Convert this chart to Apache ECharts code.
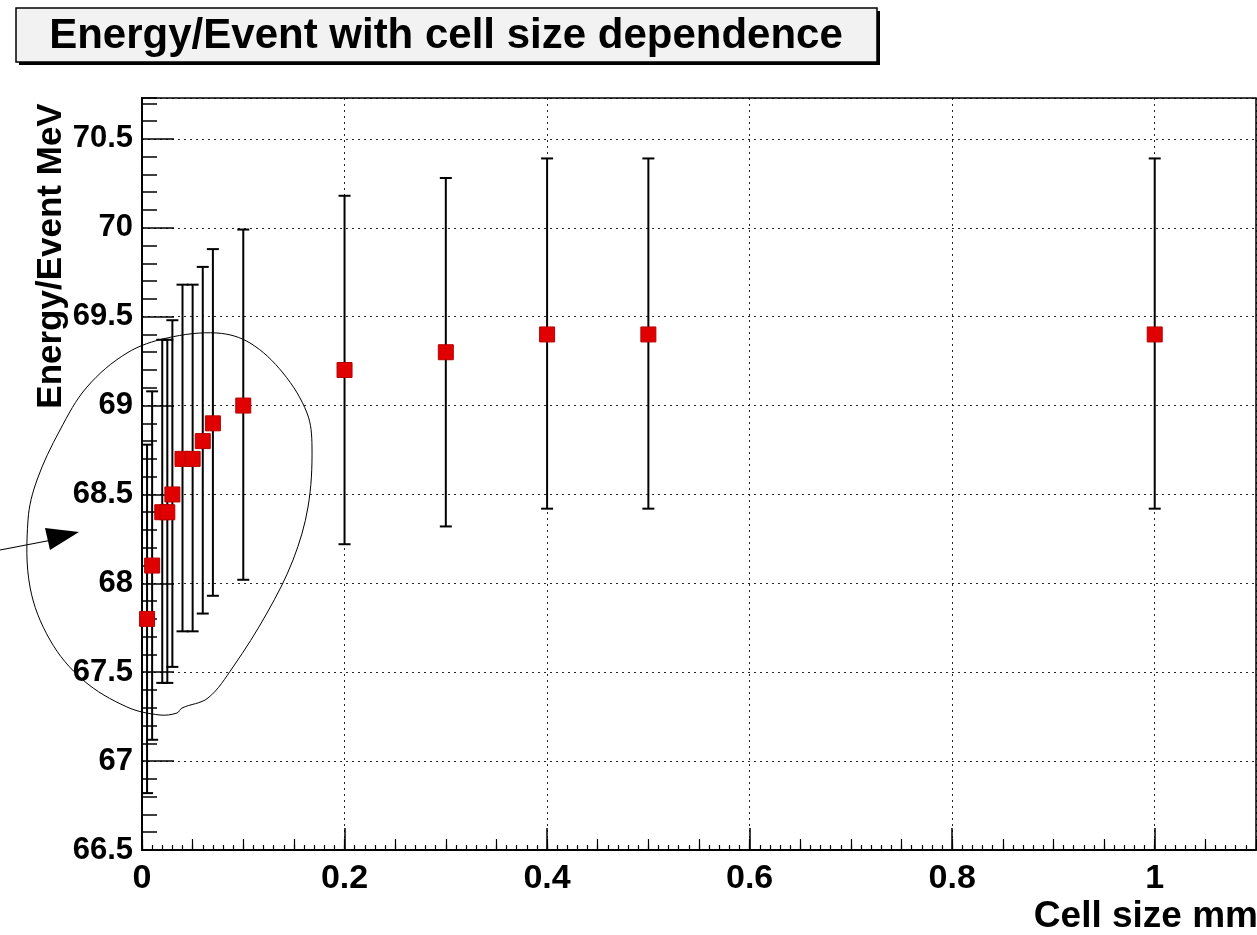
<!DOCTYPE html>
<html>
<head>
<meta charset="utf-8">
<title>Energy/Event with cell size dependence</title>
<script src="https://cdn.jsdelivr.net/npm/echarts@6/dist/echarts.min.js"></script>
<style>
    html, body { margin: 0; padding: 0; background: #fff; }
    #chart { width: 1257px; height: 935px; }
</style>
</head>
<body>
<div id="chart"></div>
<script>
// cell size (mm) and energy per event (MeV)
const cellSize = [0.005, 0.01, 0.02, 0.025, 0.03, 0.04, 0.05, 0.06, 0.07, 0.1, 0.2, 0.3, 0.4, 0.5, 1.0]
const energy = [67.8, 68.1, 68.4, 68.4, 68.5, 68.7, 68.7, 68.8, 68.9, 69.0, 69.2, 69.3, 69.4, 69.4, 69.4]
const errLow = [66.82, 67.12, 67.44, 67.44, 67.53, 67.73, 67.73, 67.83, 67.93, 68.02, 68.22, 68.32, 68.42, 68.42, 68.42]
const errHigh = [68.78, 69.08, 69.37, 69.37, 69.48, 69.68, 69.68, 69.78, 69.88, 69.99, 70.18, 70.28, 70.39, 70.39, 70.39]

const xTicks = ['0', '0.2', '0.4', '0.6', '0.8', '1']
const yTicks = ['66.5', '67', '67.5', '68', '68.5', '69', '69.5', '70', '70.5']

const FONT = '"Liberation Sans", Arial, sans-serif'
const X_MIN = 0, X_MAX = 1.1
const Y_MIN = 66.5, Y_MAX = 70.73

const points = cellSize.map((x, i) => [x, energy[i]])
const bars = cellSize.map((x, i) => [x, errLow[i], errHigh[i]])

function renderErrorBar(params, api) {
    const x = api.value(0)
    const lo = api.coord([x, api.value(1)])
    const hi = api.coord([x, api.value(2)])
    const cap = 6
    const style = { stroke: '#000', lineWidth: 2 }
    return {
        type: 'group',
        children: [
            { type: 'line', shape: { x1: lo[0], y1: lo[1], x2: hi[0], y2: hi[1] }, style: style },
            { type: 'line', shape: { x1: lo[0] - cap, y1: lo[1], x2: lo[0] + cap, y2: lo[1] }, style: style },
            { type: 'line', shape: { x1: hi[0] - cap, y1: hi[1], x2: hi[0] + cap, y2: hi[1] }, style: style }
        ]
    }
}

const gridLine = { show: true, lineStyle: { color: '#000', width: 1, type: [2, 4], opacity: 0.85 } }

function minorX(interval, len) {
    return {
        type: 'value', min: X_MIN, max: X_MAX, interval: interval, position: 'bottom',
        axisLine: { show: false }, axisLabel: { show: false }, splitLine: { show: false },
        axisTick: { show: true, inside: true, length: len, lineStyle: { color: '#000', width: 1.2 } }
    }
}

const chart = echarts.init(document.getElementById('chart'), null, { renderer: 'canvas' })

chart.setOption({
    backgroundColor: '#fff',
    animation: false,
    grid: {
        left: 142, right: 1, top: 98, bottom: 85,
        show: true, borderColor: '#000', borderWidth: 1.5, backgroundColor: 'transparent'
    },
    xAxis: [
        {
            type: 'value', min: X_MIN, max: X_MAX, interval: 0.2, position: 'bottom',
            axisLine: { show: true, lineStyle: { color: '#000', width: 2 } },
            axisTick: { show: true, inside: true, length: 22, lineStyle: { color: '#000', width: 1.5 } },
            axisLabel: {
                fontFamily: FONT, fontWeight: 'bold', fontSize: 34, color: '#000',
                margin: 12, showMaxLabel: false,
                formatter: v => xTicks.find(t => Math.abs(parseFloat(t) - v) < 1e-6) || ''
            },
            splitLine: gridLine
        },
        minorX(0.05, 11),
        minorX(0.01, 5)
    ],
    yAxis: [
        {
            type: 'value', min: Y_MIN, max: Y_MAX, interval: 0.5,
            axisLine: { show: true, lineStyle: { color: '#000', width: 2 } },
            axisTick: { show: true, inside: true, length: 32, lineStyle: { color: '#000', width: 1.5 } },
            axisLabel: {
                fontFamily: FONT, fontWeight: 'bold', fontSize: 31, color: '#000',
                margin: 9, showMaxLabel: false,
                formatter: v => yTicks.find(t => Math.abs(parseFloat(t) - v) < 1e-6) || ''
            },
            splitLine: gridLine
        },
        {
            type: 'value', min: Y_MIN, max: Y_MAX, interval: 0.1, position: 'left',
            axisLine: { show: false }, axisLabel: { show: false }, splitLine: { show: false },
            axisTick: { show: true, inside: true, length: 15, lineStyle: { color: '#000', width: 1.5 } }
        }
    ],
    series: [
        {
            type: 'custom',
            name: 'error',
            xAxisIndex: 0, yAxisIndex: 0,
            renderItem: renderErrorBar,
            data: bars,
            z: 2
        },
        {
            type: 'scatter',
            name: 'Energy/Event',
            xAxisIndex: 0, yAxisIndex: 0,
            symbol: 'rect',
            symbolSize: 15,
            itemStyle: { color: '#e00000', borderColor: '#b80000', borderWidth: 1, opacity: 1 },
            data: points,
            z: 3
        }
    ],
    graphic: [
        // title box with shadow
        { type: 'rect', z: 10, shape: { x: 19, y: 11, width: 861, height: 54 }, style: { fill: '#000' } },
        { type: 'rect', z: 11, shape: { x: 16, y: 8, width: 861, height: 54 }, style: { fill: '#f2f2f2', stroke: '#000', lineWidth: 1.5 } },
        {
            type: 'text', z: 12, x: 446, y: 36,
            style: { text: 'Energy/Event with cell size dependence', font: 'bold 42px ' + FONT, fill: '#000', textAlign: 'center', textVerticalAlign: 'middle' }
        },
        {
            type: 'text', z: 12, x: 51, y: 256, rotation: Math.PI / 2,
            style: { text: 'Energy/Event MeV', font: 'bold 35px ' + FONT, fill: '#000', textAlign: 'center', textVerticalAlign: 'middle' }
        },
        {
            type: 'text', z: 12, x: 1258, y: 917,
            style: { text: 'Cell size mm', font: 'bold 37px ' + FONT, fill: '#000', textAlign: 'right', textVerticalAlign: 'middle' }
        },
        // hand drawn annotation around the small cell sizes
        {
            type: 'polygon', z: 20, silent: true,
            shape: {
                smooth: 0.35,
                points: [[217, 333], [250, 343], [283, 373], [307, 413], [312, 447], [308, 507], [293, 560], [267, 613],
                    [233, 667], [208, 698], [182, 708], [177, 713], [160, 715], [127, 707], [83, 680], [50, 640],
                    [30, 587], [28, 520], [37, 480], [60, 430], [87, 387], [127, 353], [167, 338]]
            },
            style: { fill: null, stroke: '#000', lineWidth: 1 }
        },
        { type: 'line', z: 20, shape: { x1: 0, y1: 550, x2: 52, y2: 540 }, style: { stroke: '#000', lineWidth: 1.2 } },
        { type: 'polygon', z: 20, shape: { points: [[45, 528], [50, 550], [79, 532]] }, style: { fill: '#000' } }
    ]
})
</script>
</body>
</html>
